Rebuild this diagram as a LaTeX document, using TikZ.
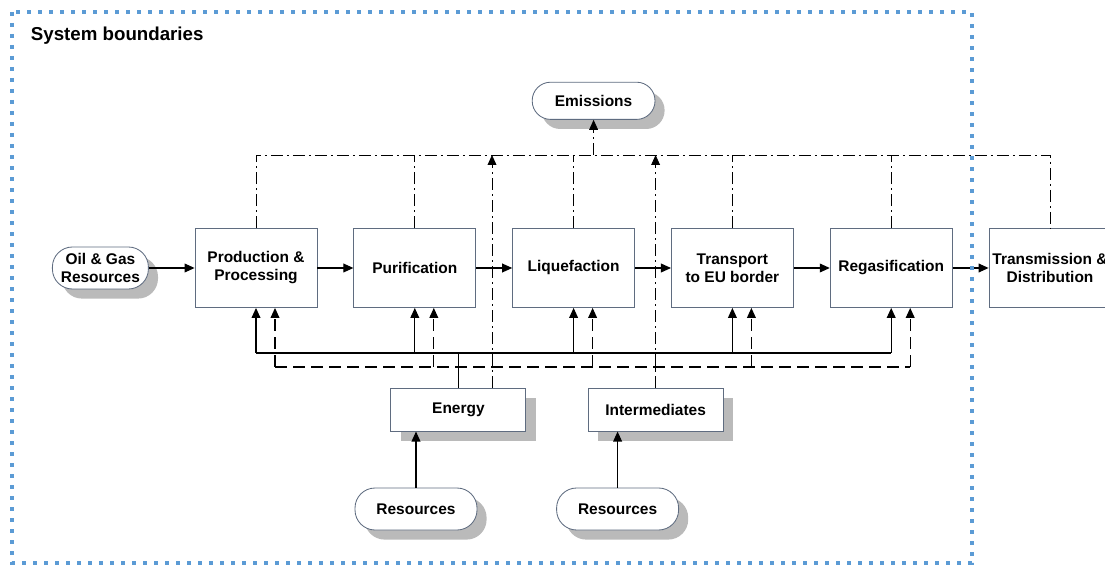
\documentclass[tikz,border=0pt]{standalone}
\usepackage{fontspec}
\setmainfont{Liberation Sans}
\usetikzlibrary{positioning, calc, arrows.meta, shadows}
\definecolor{boxline}{RGB}{95,108,128}
\definecolor{sysblue}{RGB}{91,155,213}

\begin{document}
\begin{tikzpicture}[
    every node/.style={font=\fontsize{11}{12.8}\selectfont\bfseries, align=center},
    shade_off/.style={drop shadow={shadow xshift=0.24cm, shadow yshift=-0.24cm, fill=black!27, opacity=1}},
    box/.style={draw=boxline, semithick, fill=white, minimum width=3.05cm, minimum height=1.975cm, inner sep=1pt},
    smallbox/.style={box, minimum width=3.375cm, minimum height=1.075cm, shade_off},
    pill/.style={draw=boxline, semithick, fill=white, rounded corners=0.5cm, minimum height=1.05cm, inner sep=1pt, shade_off},
    tip/.style={-{Triangle[length=0.25cm, width=0.22cm]}},
    flow/.style={tip, thick},
    bus/.style={thick},
    ibus_line/.style={thick, dash pattern=on 0.3cm off 0.15cm},
    emit/.style={semithick, dash pattern=on 0.3cm off 0.1cm on 0.05cm off 0.1cm},
    boundary/.style={sysblue, line width=0.1cm, dash pattern=on 0.1cm off 0.175cm}
]
    \clip (0,0) rectangle (27.625,-14.125);

    \def\colw{3.97}

    % --- title ---
    \node[anchor=west, font=\fontsize{13.3}{15}\selectfont\bfseries] (title) at (0.65,-0.88) {System boundaries};

    % --- main chain ---
    \foreach \i/\txt in {1/{Production \&\\Processing}, 2/Purification, 3/Liquefaction,
                         4/{Transport\\to EU border}, 5/Regasification, 6/{Transmission \&\\Distribution}} {
        \node[box] (B\i) at ({6.4+(\i-1)*\colw}, -6.7) {\txt};
    }
    \node[pill, minimum width=2.4cm] (OG) at (2.51,-6.7) {Oil \& Gas\\Resources};
    \draw[flow] (OG) -- (B1);
    \foreach \i [evaluate=\i as \j using int(\i+1)] in {1,...,5} {
        \draw[flow] (B\i) -- (B\j);
    }

    % --- emissions ---
    \node[pill, minimum width=3.07cm, minimum height=0.93cm, rounded corners=0.46cm] (Em) at (14.84,-2.52) {Emissions};
    \coordinate (top) at (0,-3.875);
    \draw[emit] (B1.north) |- (B6.north |- top) -- (B6.north);
    \foreach \i in {2,...,5} {
        \draw[emit] (B\i.north) -- (B\i.north |- top);
    }
    \draw[emit, tip] (Em.south |- top) -- (Em.south);

    % --- energy and intermediates ---
    \node[smallbox] (En) at (11.46,-10.24) {Energy};
    \node[smallbox] (In) at (16.39,-10.24) {Intermediates};
    \node[pill, minimum width=3.05cm] (R1) at (10.4,-12.725) {Resources};
    \node[pill, minimum width=3.05cm] (R2) at (15.44,-12.725) {Resources};
    \draw[flow] (R1.north) -- (R1.north |- En.south);
    \draw[flow] (R2.north) -- (R2.north |- In.south);

    % energy bus (solid)
    \coordinate (ebus) at (0,-8.825);
    \draw[bus] (En.north) -- (En.north |- ebus);
    \draw[bus] (B1.south |- ebus) -- (B5.south |- ebus);
    \foreach \i in {1,...,5} {
        \draw[flow] (B\i.south |- ebus) -- (B\i.south);
    }

    % intermediates bus (dashed)
    \coordinate (ibus) at (0,-9.175);
    \foreach \i in {1,...,5} {
        \coordinate (D\i) at ([xshift=0.475cm]B\i.south);
    }
    \draw[ibus_line] (D1 |- ibus) -- (D5 |- ibus);
    \draw[ibus_line] (In.north) -- (In.north |- ibus);
    \foreach \i in {1,...,5} {
        \draw[ibus_line, tip] (D\i |- ibus) -- (D\i);
    }

    % emissions of energy and intermediates
    \coordinate (EnE) at ([xshift=0.84cm]En.north);
    \draw[emit, tip] (EnE) -- (EnE |- top);
    \draw[emit, tip] (In.north) -- (In.north |- top);

    % --- system boundaries ---
    \draw[boundary] (0.3,-0.3) rectangle (24.3,-14.07);
\end{tikzpicture}
\end{document}
